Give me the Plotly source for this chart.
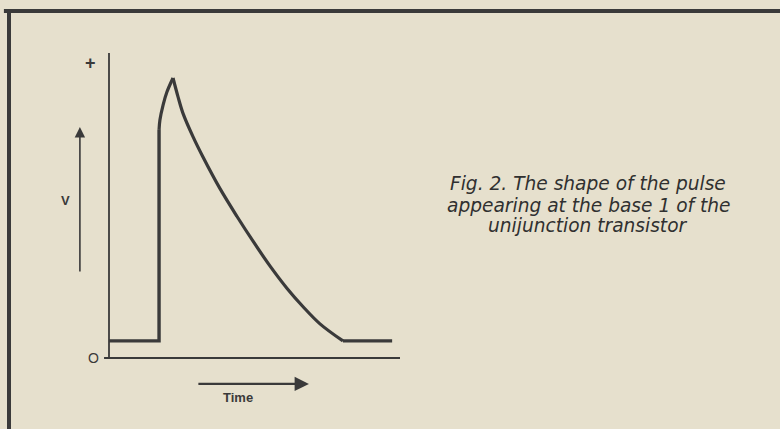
import plotly.graph_objects as go

# ---- data (logical units: time along x, voltage along y) ----
base_t = [0.0, 1.72, 1.72]
base_v = [0.56, 0.56, 7.48]

rise_t = [1.72, 1.75, 1.86, 1.99, 2.20]
rise_v = [7.48, 7.80, 8.30, 8.72, 9.18]

decay_t = [2.20, 2.37, 2.54, 2.89, 3.23, 3.81, 4.40, 4.95, 5.53, 6.12, 6.67, 7.25, 8.04]
decay_v = [9.18, 8.57, 8.03, 7.25, 6.59, 5.56, 4.64, 3.83, 3.02, 2.28, 1.68, 1.12, 0.56]

tail_t = [8.04, 9.73]
tail_v = [0.56, 0.56]

axis_x_t = [-0.17, 10.0]
axis_y_v = [0.0, 10.0]

caption_lines = ["Fig. 2. The shape of the pulse",
                 "appearing at the base 1 of the",
                 "unijunction transistor"]
caption_y = [0.573, 0.522, 0.475]

BG = "#e6e0cd"
INK = "#3a3a3a"

fig = go.Figure()

# axes
fig.add_trace(go.Scatter(x=axis_x_t, y=[0, 0], mode="lines",
                         line=dict(color=INK, width=2), hoverinfo="skip"))
fig.add_trace(go.Scatter(x=[0, 0], y=axis_y_v, mode="lines",
                         line=dict(color=INK, width=1.8), hoverinfo="skip"))

# pulse
fig.add_trace(go.Scatter(x=base_t, y=base_v, mode="lines",
                         line=dict(color=INK, width=3.4)))
fig.add_trace(go.Scatter(x=rise_t, y=rise_v, mode="lines",
                         line=dict(color=INK, width=3.2, shape="spline")))
fig.add_trace(go.Scatter(x=decay_t, y=decay_v, mode="lines",
                         line=dict(color=INK, width=3.2, shape="spline", smoothing=1)))
fig.add_trace(go.Scatter(x=tail_t, y=tail_v, mode="lines",
                         line=dict(color=INK, width=3.4)))

# labels
fig.add_annotation(x=-0.65, y=9.67, text="<b>+</b>", showarrow=False,
                   font=dict(size=18, color=INK, family="Liberation Sans"))
fig.add_annotation(x=-0.52, y=0.0, text="O", showarrow=False,
                   font=dict(size=14, color=INK, family="Liberation Sans"))
fig.add_annotation(x=-1.51, y=5.18, text="<b>V</b>", showarrow=False,
                   font=dict(size=13, color=INK, family="Liberation Sans"))
fig.add_annotation(x=4.43, y=-1.28, text="<b>Time</b>", showarrow=False,
                   font=dict(size=13, color=INK, family="Liberation Sans"))

# arrows
fig.add_annotation(x=-1.0, y=7.57, ax=-1.0, ay=2.79, axref="x", ayref="y",
                   xref="x", yref="y", text="", showarrow=True,
                   arrowhead=2, arrowsize=1.3, arrowwidth=1.6, arrowcolor=INK)
fig.add_annotation(x=6.87, y=-0.85, ax=3.02, ay=-0.85, axref="x", ayref="y",
                   xref="x", yref="y", text="", showarrow=True,
                   arrowhead=2, arrowsize=1.3, arrowwidth=2.2, arrowcolor=INK)

# caption
for line, yy in zip(caption_lines, caption_y):
    fig.add_annotation(x=0.754, y=yy, xref="paper", yref="paper", text="<i>" + line + "</i>",
                       showarrow=False, xanchor="center", yanchor="middle",
                       font=dict(size=18.6, color="#303030", family="DejaVu Sans"))

# frame
fig.add_shape(type="line", xref="paper", yref="paper", x0=0.005, x1=1.0,
              y0=1 - 11 / 429, y1=1 - 11 / 429, line=dict(color=INK, width=4))
fig.add_shape(type="line", xref="paper", yref="paper", x0=9 / 780, x1=9 / 780,
              y0=0, y1=1 - 11 / 429, line=dict(color=INK, width=4))

fig.update_layout(
    width=780, height=429,
    margin=dict(l=0, r=0, t=0, b=0),
    paper_bgcolor=BG, plot_bgcolor=BG,
    showlegend=False,
    xaxis=dict(visible=False, range=[-109 / 29.1, (780 - 109) / 29.1], fixedrange=True),
    yaxis=dict(visible=False, range=[-(429 - 358) / 30.5, 358 / 30.5], fixedrange=True),
)

fig.write_html("out.html", config={"displayModeBar": False},
               post_script="document.body.style.margin='0';document.body.style.overflow='hidden';")
